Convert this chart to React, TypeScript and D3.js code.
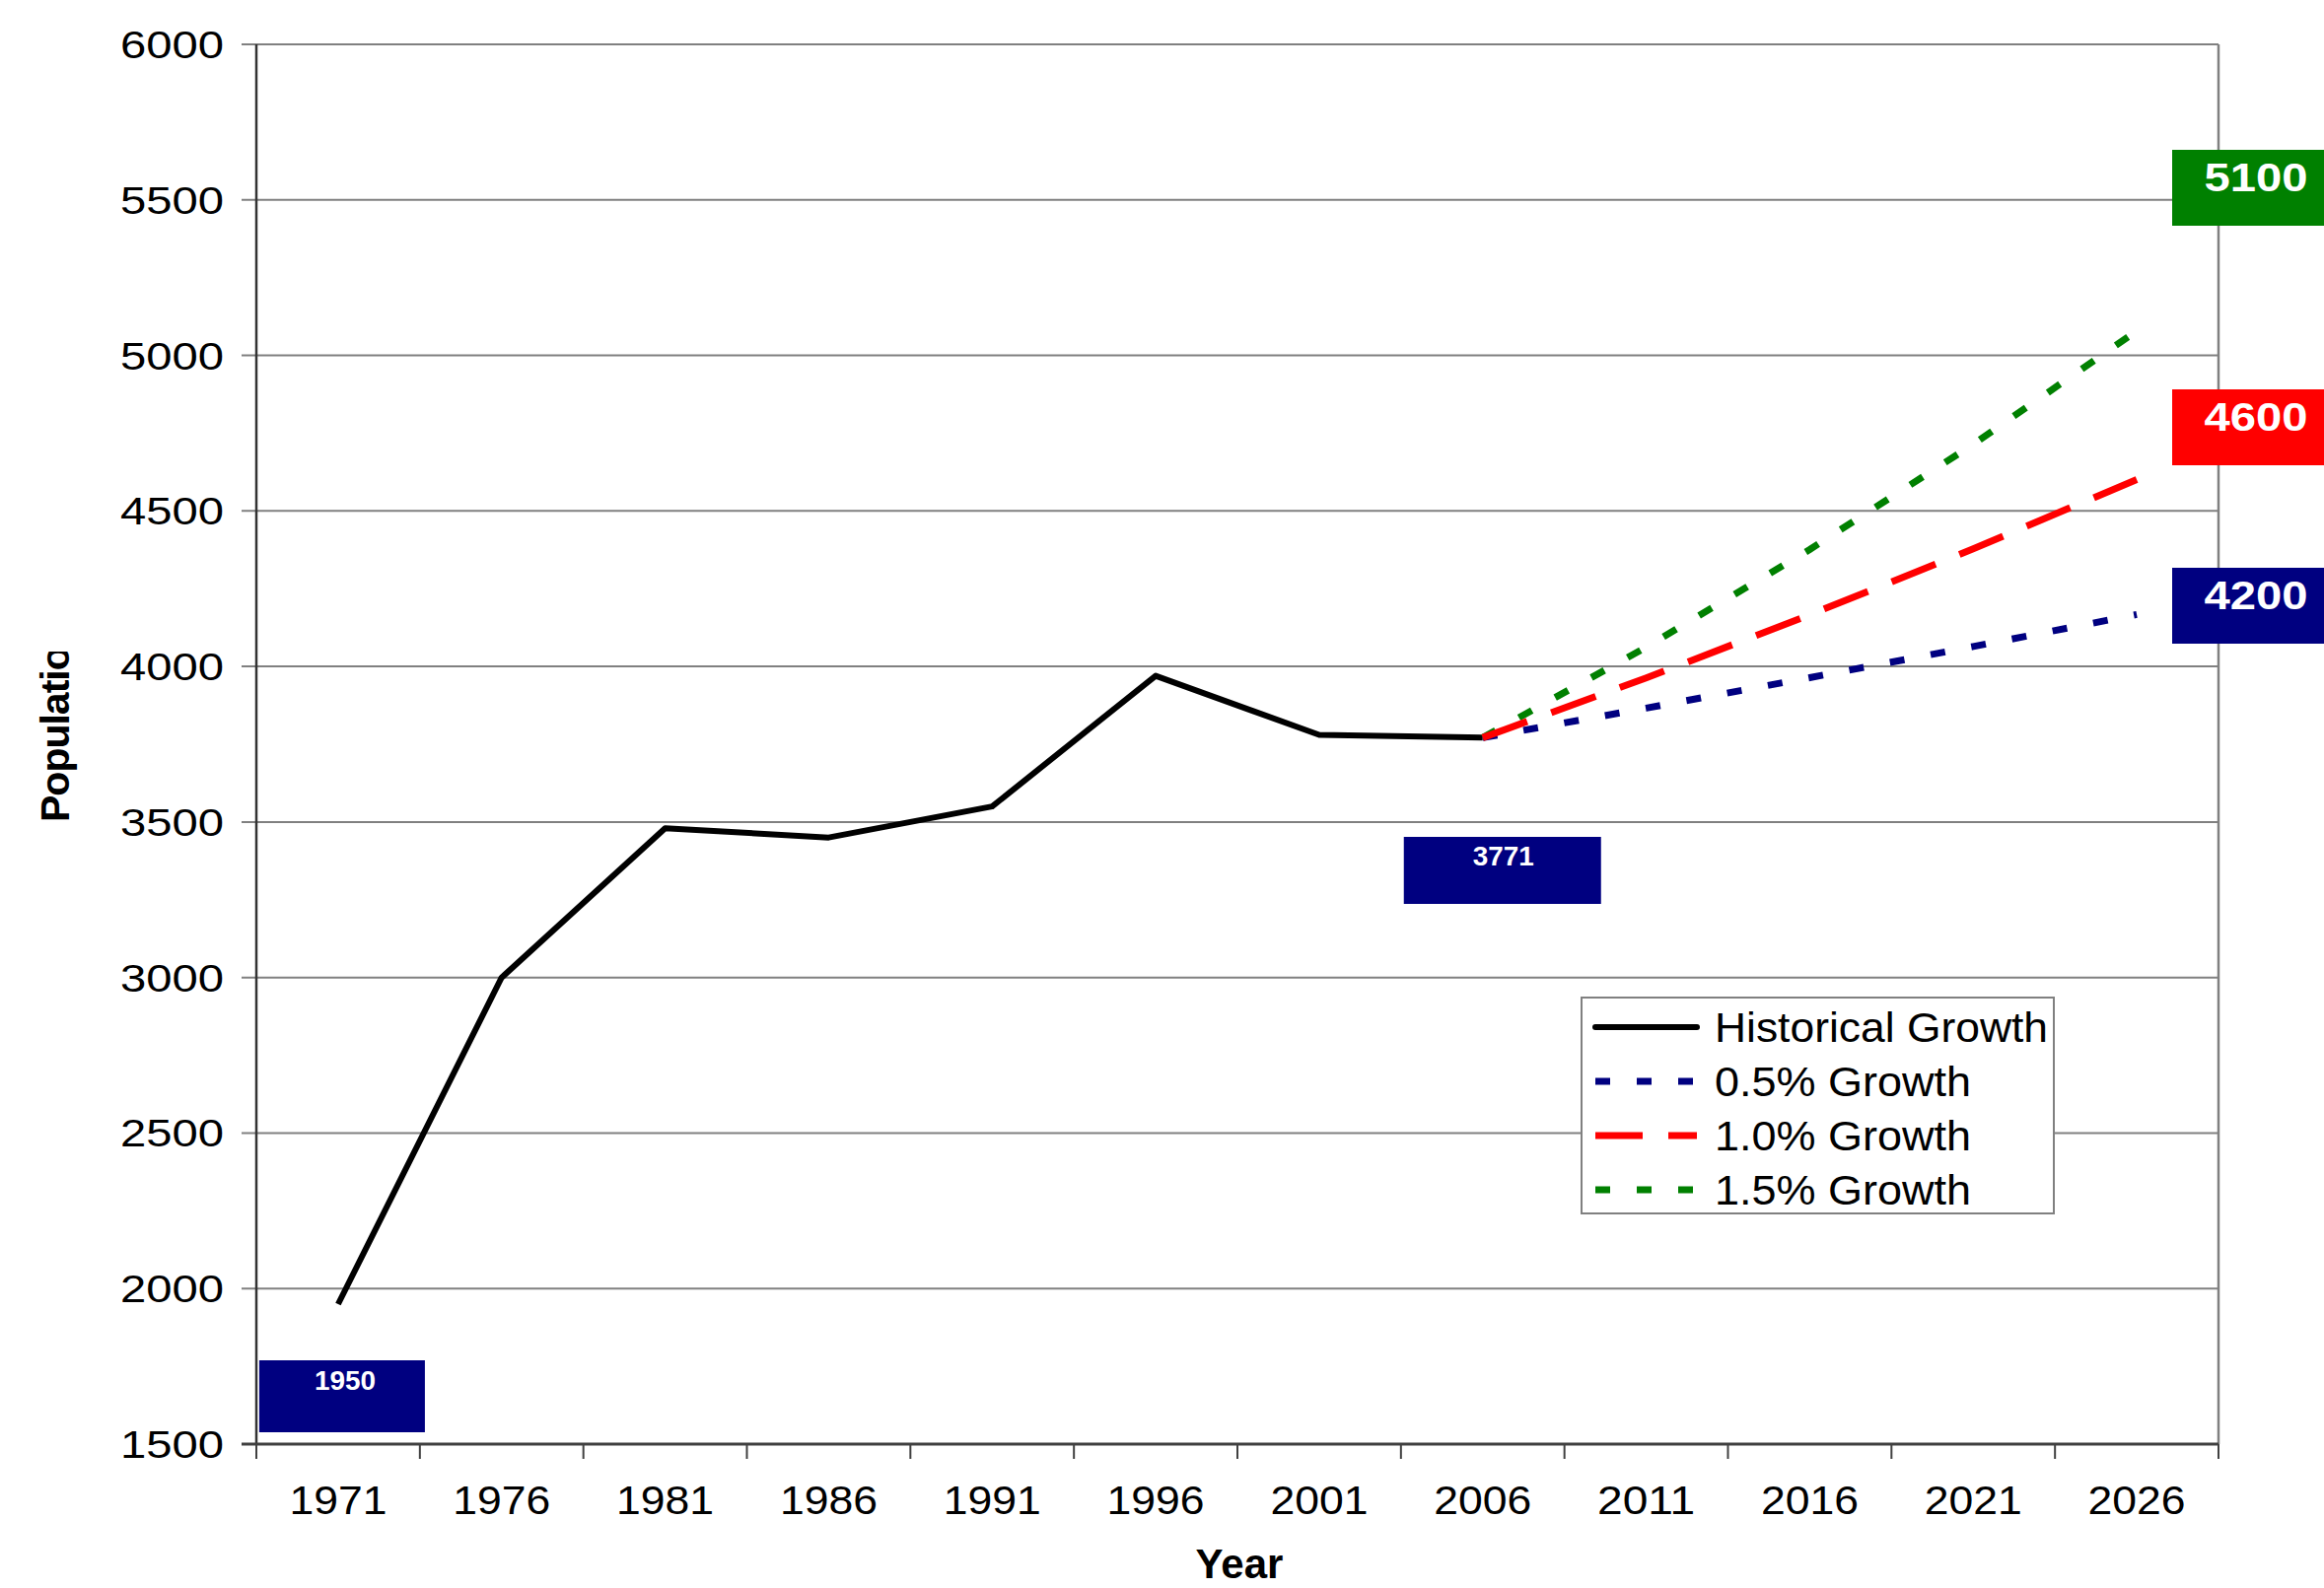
import React, { useEffect } from 'react';
import * as d3 from 'd3';

const years = ['1971', '1976', '1981', '1986', '1991', '1996', '2001', '2006', '2011', '2016', '2021', '2026'];
const historicalYears = ['1971', '1976', '1981', '1986', '1991', '1996', '2001', '2006'];
const historical = [1950, 3000, 3480, 3450, 3550, 3970, 3780, 3771];
const projectionYears = ['2006', '2011', '2016', '2021', '2026'];
const growth05 = [3771, 3866, 3964, 4064, 4167];
const growth10 = [3771, 3963, 4166, 4378, 4601];
const growth15 = [3771, 4062, 4376, 4714, 5079];
const yTicks = [1500, 2000, 2500, 3000, 3500, 4000, 4500, 5000, 5500, 6000];
const legendNames = ['Historical Growth', '0.5% Growth', '1.0% Growth', '1.5% Growth'];
const endLabels = ['5100', '4600', '4200'];
const pointLabels = ['1950', '3771'];

const W = 2357;
const H = 1611;
const left = 260, right = 2250, top = 45, bottom = 1465;

const NAVY = '#000080';
const RED = '#ff0000';
const GREEN = '#008000';
const FONT = 'Arial, "Liberation Sans", Helvetica, sans-serif';

const App: React.FC = () => {
  useEffect(() => {
    document.body.style.margin = '0';
  }, []);

  const x = d3.scaleBand<string>().domain(years).range([left, right]);
  const cx = (yr: string) => (x(yr) as number) + x.bandwidth() / 2;
  const y = d3.scaleLinear().domain([1500, 6000]).range([bottom, top]);

  const line = d3.line<[string, number]>()
    .x(d => cx(d[0]))
    .y(d => y(d[1]));

  const histPath = line(historicalYears.map((yr, i) => [yr, historical[i]]))!;
  const p05 = line(projectionYears.map((yr, i) => [yr, growth05[i]]))!;
  const p10 = line(projectionYears.map((yr, i) => [yr, growth10[i]]))!;
  const p15 = line(projectionYears.map((yr, i) => [yr, growth15[i]]))!;

  // series styles (legend order)
  const styles = [
    { color: '#000000', width: 6, dash: undefined as string | undefined },
    { color: NAVY, width: 7, dash: '15 27' },
    { color: RED, width: 7, dash: '48 26' },
    { color: GREEN, width: 7, dash: '15 27' },
  ];
  const legendWidths = [338, 260, 260, 260];

  const boundaries = years.map(yr => x(yr) as number).concat([right]);

  const endColors = [GREEN, RED, NAVY];
  const endBoxY = [152, 395, 576];

  // small data label boxes under first / last historical point
  const firstX = cx(historicalYears[0]);
  const lastX = cx(historicalYears[historicalYears.length - 1]);
  const pointBoxes = [
    { x: firstX - 80, y: 1380, w: 168, h: 73, tx: firstX + 7, ty: 1410 },
    { x: lastX - 80, y: 849, w: 200, h: 68, tx: lastX + 21, ty: 878 },
  ];

  const legX = 1604, legY = 1012, legW = 479, legH = 219;

  return (
    <svg width={W} height={H} style={{ display: 'block', background: '#fff' }} fontFamily={FONT}>
      <defs>
        <clipPath id="ytitle-clip">
          <rect x={0} y={661} width={120} height={400} />
        </clipPath>
      </defs>

      {/* gridlines */}
      {yTicks.map(t => (
        <line key={t} x1={left - 15} x2={right} y1={y(t)} y2={y(t)} stroke="#808080" strokeWidth={2} />
      ))}
      {/* right border */}
      <line x1={right} x2={right} y1={top} y2={bottom} stroke="#808080" strokeWidth={2.5} />
      {/* left axis */}
      <line x1={left} x2={left} y1={top} y2={bottom} stroke="#333" strokeWidth={2.5} />
      {/* bottom axis */}
      <line x1={left - 15} x2={right} y1={bottom} y2={bottom} stroke="#404040" strokeWidth={3} />
      {boundaries.map((b, i) => (
        <line key={i} x1={b} x2={b} y1={bottom} y2={bottom + 15} stroke="#404040" strokeWidth={2} />
      ))}

      {/* y tick labels */}
      {yTicks.map(t => (
        <text key={t} x={227} y={y(t) + 14} textAnchor="end" fontSize={38}
          textLength={105} lengthAdjust="spacingAndGlyphs">{t}</text>
      ))}

      {/* x tick labels */}
      {years.map(yr => (
        <text key={yr} x={cx(yr)} y={1536} textAnchor="middle" fontSize={40}
          textLength={99} lengthAdjust="spacingAndGlyphs">{yr}</text>
      ))}

      {/* axis titles */}
      <text x={1257} y={1601} textAnchor="middle" fontSize={42} fontWeight="bold">Year</text>
      <g clipPath="url(#ytitle-clip)">
        <text transform="translate(70,834) rotate(-90)" fontSize={41} fontWeight="bold"
          letterSpacing={-1}>Population</text>
      </g>

      {/* series */}
      <path d={histPath} fill="none" stroke={styles[0].color} strokeWidth={styles[0].width} strokeLinejoin="round" />
      <path d={p15} fill="none" stroke={GREEN} strokeWidth={7} strokeDasharray={styles[3].dash} />
      <path d={p05} fill="none" stroke={NAVY} strokeWidth={7} strokeDasharray={styles[1].dash} />
      <path d={p10} fill="none" stroke={RED} strokeWidth={7} strokeDasharray={styles[2].dash} />

      {/* point label boxes */}
      {pointBoxes.map((b, i) => (
        <g key={i}>
          <rect x={b.x} y={b.y} width={b.w} height={b.h} fill={NAVY} />
          <text x={b.tx} y={b.ty} textAnchor="middle" fill="#fff" fontSize={27} fontWeight="bold"
            textLength={62} lengthAdjust="spacingAndGlyphs">{pointLabels[i]}</text>
        </g>
      ))}

      {/* end label boxes */}
      {endLabels.map((lab, i) => (
        <g key={lab}>
          <rect x={2203} y={endBoxY[i]} width={W - 2203} height={77} fill={endColors[i]} />
          <text x={2288} y={endBoxY[i] + 42} textAnchor="middle" fill="#fff" fontSize={40} fontWeight="bold"
            textLength={105} lengthAdjust="spacingAndGlyphs">{lab}</text>
        </g>
      ))}

      {/* legend */}
      <rect x={legX} y={legY} width={legW} height={legH} fill="#fff" stroke="#808080" strokeWidth={2} />
      {legendNames.map((name, i) => {
        const ly = 1042 + i * 55;
        const s = styles[i];
        return (
          <g key={name}>
            <line x1={1618} x2={1721} y1={ly} y2={ly} stroke={s.color} strokeWidth={i === 0 ? 6 : 7}
              strokeDasharray={s.dash} strokeLinecap={i === 0 ? 'round' : 'butt'} />
            <text x={1739} y={ly + 15} fontSize={42}
              textLength={legendWidths[i]} lengthAdjust="spacingAndGlyphs">{name}</text>
          </g>
        );
      })}
    </svg>
  );
};

export default App;
